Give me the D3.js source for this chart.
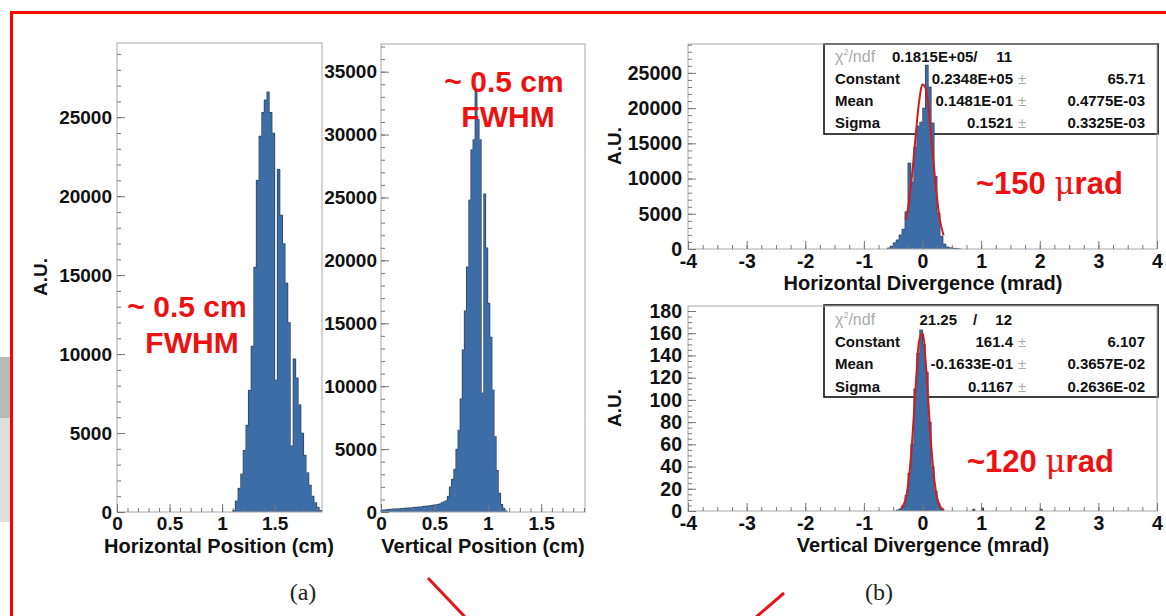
<!DOCTYPE html>
<html>
<head>
<meta charset="utf-8">
<script src="https://cdn.jsdelivr.net/npm/d3@7"></script>
<style>
body { margin: 0; background: #fff; }
svg { display: block; font-family: "Liberation Sans", Arial, Helvetica, sans-serif; }
</style>
</head>
<body>
<script>
let w = 1166
let h = 616

// (a) horizontal position, cm, bins of 0.025 starting at 1.10
let hposStart = 1.10
let hposBin = 0.025
let hposCounts = [100, 700, 1500, 2400, 3900, 5500, 7700, 10500, 15500, 21000, 23800, 25300, 26100, 26600,
  25300, 24000, 8350, 21700, 18800, 17000, 14500, 12000, 4200, 9700, 8500, 6800, 5000, 3600, 2500, 1700,
  1000, 600, 300, 100]
let hposXTicks = [0, 0.5, 1, 1.5]
let hposYTicks = [0, 5000, 10000, 15000, 20000, 25000]

// (a) vertical position, cm, bins of 0.02 starting at 0
let vposStart = 0
let vposBin = 0.02
let vposCounts = [150, 170, 190, 200, 210, 230, 250, 260, 270, 280, 300, 310, 320, 340, 350, 370, 380, 400,
  420, 440, 460, 480, 500, 520, 550, 580, 600, 650, 750, 820, 900, 1250, 2000, 2600, 3400, 5000, 6500, 9000,
  12900, 16000, 19500, 24800, 28800, 29600, 33500, 31200, 29600, 9460, 25300, 21000, 16600, 13900, 9700,
  6000, 3300, 1500, 600, 300, 100]
let vposXTicks = [0, 0.5, 1, 1.5]
let vposYTicks = [0, 5000, 10000, 15000, 20000, 25000, 30000, 35000]

// (b) horizontal divergence, mrad, bins of 0.05 starting at -0.60
let hdivStart = -0.60
let hdivBin = 0.05
let hdivCounts = [150, 400, 900, 1300, 2000, 2800, 5300, 12200, 9500, 14500, 17500, 18000, 20000, 26100,
  23000, 17900, 10300, 5100, 1800, 700, 300, 200, 120, 80, 50]
let hfitX = [-0.29, -0.25, -0.20, -0.15, -0.10, -0.05, 0.00, 0.05, 0.10, 0.15, 0.20, 0.25, 0.30, 0.36]
let hfitY = [4200, 5600, 8700, 13000, 17600, 21400, 23350, 22900, 20100, 15800, 11200, 7100, 4000, 1900]
let divXTicks = [-4, -3, -2, -1, 0, 1, 2, 3, 4]
let hdivYTicks = [0, 5000, 10000, 15000, 20000, 25000]

// (b) vertical divergence, mrad, bins of 0.05 starting at -0.45
let vdivStart = -0.45
let vdivBin = 0.05
let vdivCounts = [1, 2, 5, 14, 34, 60, 110, 142, 163, 150, 125, 80, 40, 18, 7, 2]
let vdivTailX = [0.85, 1.00, 2.00]
let vdivTailY = [2, 3, 2]
let vfitX = [-0.37, -0.30, -0.25, -0.20, -0.15, -0.10, -0.05, 0.00, 0.05, 0.10, 0.15, 0.20, 0.25, 0.30, 0.37]
let vfitY = [1.6, 8.4, 22, 47, 84, 125, 155, 160, 137, 98, 58, 29, 12, 4, 0.7]
let vdivYTicks = [0, 20, 40, 60, 80, 100, 120, 140, 160, 180]

// fit boxes
let statNames = ["Constant", "Mean", "Sigma"]
let hChi = "0.1815E+05/"
let hNdf = "11"
let hVals = ["0.2348E+05", "0.1481E-01", "0.1521"]
let hErrs = ["65.71", "0.4775E-03", "0.3325E-03"]
let vChi = "21.25"
let vNdf = "12"
let vVals = ["161.4", "-0.1633E-01", "0.1167"]
let vErrs = ["6.107", "0.3657E-02", "0.2636E-02"]

let blue = "#3d6da6"
let red = "#ee1111"

let svg = d3.select("body").append("svg")
  .attr("width", w)
  .attr("height", h)

// slide leftovers
svg.append("rect").attr("x", 0).attr("y", 357).attr("width", 10).attr("height", 61).attr("fill", "#b9b9b9")
svg.append("rect").attr("x", 0).attr("y", 418).attr("width", 10).attr("height", 104).attr("fill", "#dedede")
svg.append("rect").attr("x", 11.5).attr("y", 12.5).attr("width", 1300).attr("height", 800)
  .attr("fill", "none").attr("stroke", "#ff0000").attr("stroke-width", 3)

let drawPanel = (p) => {
  let x = d3.scaleLinear().domain(p.xDomain).range([p.left, p.right])
  let y = d3.scaleLinear().domain(p.yDomain).range([p.bottom, p.top])
  let g = svg.append("g")

  if (p.stats) {
    let s = p.stats
    let box = g.append("g")
    box.append("rect").attr("x", s.x).attr("y", s.y).attr("width", s.w).attr("height", s.h)
      .attr("fill", "#fff").attr("stroke", "#111").attr("stroke-width", 1.6)
    let chi = box.append("text").attr("x", s.x + 11).attr("y", s.rows[0])
      .attr("font-size", 16).attr("fill", "#aaa").attr("font-weight", "normal")
    chi.append("tspan").text("\u03c7")
    chi.append("tspan").text("2").attr("font-size", 9).attr("dy", -7)
    chi.append("tspan").text("/ndf").attr("dy", 7)
    s.first(box)
    s.names.forEach((n, i) => {
      let yy = s.rows[i + 1]
      box.append("text").attr("x", s.x + 11).attr("y", yy).text(n)
        .attr("font-size", 15).attr("font-weight", "bold").attr("fill", "#111")
      box.append("text").attr("x", s.x + 189).attr("y", yy).text(s.vals[i])
        .attr("text-anchor", "end").attr("font-size", 15).attr("font-weight", "bold").attr("fill", "#111")
      box.append("text").attr("x", s.x + 198).attr("y", yy).text("\u00b1")
        .attr("text-anchor", "middle").attr("font-size", 15).attr("fill", "#aaa")
      box.append("text").attr("x", s.x + 321).attr("y", yy).text(s.errs[i])
        .attr("text-anchor", "end").attr("font-size", 15).attr("font-weight", "bold").attr("fill", "#111")
    })
  }

  let edge = (i) => x(p.start + i * p.bin)
  g.selectAll("rect.bin")
    .data(p.counts)
    .enter()
    .append("rect")
    .attr("class", "bin")
    .attr("x", (d, i) => edge(i))
    .attr("width", (d, i) => edge(i + 1) - edge(i))
    .attr("y", d => y(d))
    .attr("height", d => y(0) - y(d))
    .attr("fill", blue)
    .attr("shape-rendering", "crispEdges")

  let pts = [[p.start, 0]]
  p.counts.forEach((d, i) => pts.push([p.start + i * p.bin, d]))
  pts.push([p.start + p.counts.length * p.bin, 0])
  g.append("path")
    .attr("d", d3.line().x(d => x(d[0])).y(d => y(d[1])).curve(d3.curveStepAfter)(pts))
    .attr("fill", "none")
    .attr("stroke", "#2c3e58")
    .attr("stroke-width", 0.7)

  if (p.tailX) {
    g.selectAll("rect.tail")
      .data(p.tailX)
      .enter()
      .append("rect")
      .attr("x", d => x(d))
      .attr("width", d => x(d + p.bin) - x(d))
      .attr("y", (d, i) => y(p.tailY[i]))
      .attr("height", (d, i) => y(0) - y(p.tailY[i]))
      .attr("fill", "#2c3e58")
  }

  if (p.fitX) {
    g.append("path")
      .attr("d", d3.line().x(d => x(d[0])).y(d => y(d[1])).curve(d3.curveCatmullRom)(p.fitX.map((d, i) => [d, p.fitY[i]])))
      .attr("fill", "none")
      .attr("stroke", "#d41a1a")
      .attr("stroke-width", 2)
  }

  g.append("rect")
    .attr("x", p.left).attr("y", p.top)
    .attr("width", p.right - p.left).attr("height", p.bottom - p.top)
    .attr("fill", "none").attr("stroke", "#a8a8a8").attr("stroke-width", 1)

  let style = (a) => {
    a.select(".domain").remove()
    a.selectAll(".tick line").attr("stroke", "#777")
    a.selectAll(".tick text")
      .attr("font-size", p.fs).attr("font-weight", "bold").attr("fill", "#111")
      .attr("font-family", "'Liberation Sans', Arial, sans-serif")
  }

  g.append("g").attr("transform", `translate(0,${p.bottom})`)
    .call(d3.axisBottom(x).tickValues(p.xMinor).tickSize(-4).tickFormat(""))
    .call(style)
  g.append("g").attr("transform", `translate(0,${p.bottom})`)
    .call(d3.axisBottom(x).tickValues(p.xTicks).tickSize(-8).tickPadding(p.xPad).tickFormat(d => String(d)))
    .call(style)
  g.append("g").attr("transform", `translate(${p.left},0)`)
    .call(d3.axisLeft(y).tickValues(p.yMinor).tickSize(-4).tickFormat(""))
    .call(style)
  g.append("g").attr("transform", `translate(${p.left},0)`)
    .call(d3.axisLeft(y).tickValues(p.yTicks).tickSize(-8).tickPadding(p.yPad).tickFormat(d => String(d)))
    .call(style)

  g.append("text").text(p.xTitle)
    .attr("x", p.xTitleX).attr("y", p.xTitleY)
    .attr("text-anchor", "middle").attr("font-size", 20).attr("font-weight", "bold").attr("fill", "#111")
  if (p.yTitleX) {
    g.append("text").text("A.U.")
      .attr("transform", `translate(${p.yTitleX},${p.yTitleY}) rotate(-90)`)
      .attr("text-anchor", "middle").attr("font-size", 19).attr("font-weight", "bold").attr("fill", "#111")
  }
}

let minor = (a, b, s) => d3.range(a, b + s / 2, s)

drawPanel({
  left: 117, right: 322, top: 43, bottom: 512,
  xDomain: [0, 1.95], yDomain: [0, 29700],
  start: hposStart, bin: hposBin, counts: hposCounts,
  xTicks: hposXTicks, xMinor: minor(0, 1.9, 0.1),
  yTicks: hposYTicks, yMinor: minor(0, 29000, 1000), xPad: 5, yPad: 5, fs: 19,
  xTitle: "Horizontal Position (cm)", xTitleX: 219, xTitleY: 553,
  yTitleX: 47, yTitleY: 277
})

drawPanel({
  left: 381, right: 585, top: 44, bottom: 512,
  xDomain: [0, 1.91], yDomain: [0, 37200],
  start: vposStart, bin: vposBin, counts: vposCounts,
  xTicks: vposXTicks, xMinor: minor(0, 1.9, 0.1),
  yTicks: vposYTicks, yMinor: minor(0, 37000, 1000), xPad: 5, yPad: 4, fs: 19,
  xTitle: "Vertical Position (cm)", xTitleX: 483, xTitleY: 553
})

drawPanel({
  left: 688, right: 1157, top: 44, bottom: 249,
  xDomain: [-4, 4], yDomain: [0, 29100],
  start: hdivStart, bin: hdivBin, counts: hdivCounts,
  fitX: hfitX, fitY: hfitY,
  xTicks: divXTicks, xMinor: minor(-4, 4, 0.25),
  yTicks: hdivYTicks, yMinor: minor(0, 29000, 1000), xPad: 5, yPad: 6, fs: 19.5,
  xTitle: "Horizontal Divergence (mrad)", xTitleX: 923, xTitleY: 290,
  yTitleX: 621, yTitleY: 146,
  stats: {
    x: 824, y: 44, w: 334, h: 90, rows: [62, 84, 106, 127.5],
    names: statNames, vals: hVals, errs: hErrs,
    first: (box) => {
      box.append("text").attr("x", 892).attr("y", 62).text(hChi)
        .attr("font-size", 15).attr("font-weight", "bold").attr("fill", "#111")
      box.append("text").attr("x", 1012).attr("y", 62).text(hNdf).attr("text-anchor", "end")
        .attr("font-size", 15).attr("font-weight", "bold").attr("fill", "#111")
    }
  }
})

drawPanel({
  left: 688, right: 1157, top: 306, bottom: 511,
  xDomain: [-4, 4], yDomain: [0, 184.5],
  start: vdivStart, bin: vdivBin, counts: vdivCounts,
  tailX: vdivTailX, tailY: vdivTailY,
  fitX: vfitX, fitY: vfitY,
  xTicks: divXTicks, xMinor: minor(-4, 4, 0.25),
  yTicks: vdivYTicks, yMinor: minor(0, 180, 5), xPad: 5, yPad: 6, fs: 19.5,
  xTitle: "Vertical Divergence (mrad)", xTitleX: 923, xTitleY: 552,
  yTitleX: 621, yTitleY: 408,
  stats: {
    x: 824, y: 305, w: 334, h: 92, rows: [324.5, 347, 368.5, 391.5],
    names: statNames, vals: vVals, errs: vErrs,
    first: (box) => {
      box.append("text").attr("x", 957).attr("y", 324.5).text(vChi).attr("text-anchor", "end")
        .attr("font-size", 15).attr("font-weight", "bold").attr("fill", "#111")
      box.append("text").attr("x", 975).attr("y", 324.5).text("/").attr("text-anchor", "middle")
        .attr("font-size", 15).attr("font-weight", "bold").attr("fill", "#111")
      box.append("text").attr("x", 1012).attr("y", 324.5).text(vNdf).attr("text-anchor", "end")
        .attr("font-size", 15).attr("font-weight", "bold").attr("fill", "#111")
    }
  }
})

// red annotations
let note = (txt, x, y) => svg.append("text").text(txt)
  .attr("x", x).attr("y", y).attr("text-anchor", "middle")
  .attr("font-size", 30).attr("font-weight", "bold").attr("fill", red)
note("~ 0.5 cm", 187, 317)
note("FWHM", 192, 353)
note("~ 0.5 cm", 504, 92)
note("FWHM", 508, 127)

let micro = (lead, x, y) => {
  let t = svg.append("text").attr("x", x).attr("y", y)
    .attr("font-size", 31).attr("font-weight", "bold").attr("fill", red)
  t.append("tspan").text(lead)
  t.append("tspan").text("\u03bc").attr("font-family", "'DejaVu Serif', serif").attr("font-weight", "normal")
  t.append("tspan").text("rad")
}
micro("~150 ", 976, 194)
micro("~120 ", 967, 472)

svg.append("line").attr("x1", 428).attr("y1", 578).attr("x2", 466).attr("y2", 618)
  .attr("stroke", "#e8141a").attr("stroke-width", 3)
svg.append("line").attr("x1", 784).attr("y1", 593).attr("x2", 755).attr("y2", 618)
  .attr("stroke", "#e8141a").attr("stroke-width", 3)

svg.append("text").text("(a)").attr("x", 303).attr("y", 600).attr("text-anchor", "middle")
  .attr("font-family", "'Liberation Serif', 'Times New Roman', serif").attr("font-size", 24).attr("fill", "#222")
svg.append("text").text("(b)").attr("x", 879).attr("y", 600).attr("text-anchor", "middle")
  .attr("font-family", "'Liberation Serif', 'Times New Roman', serif").attr("font-size", 24).attr("fill", "#222")
</script>
</body>
</html>
